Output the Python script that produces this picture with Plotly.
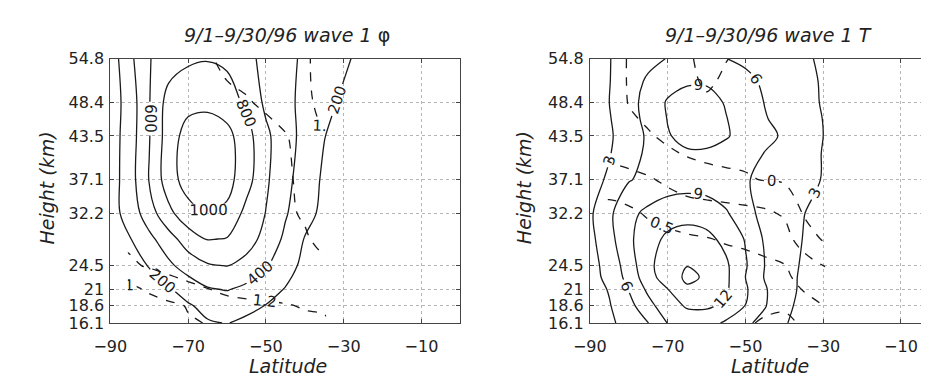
import numpy as np
import plotly.graph_objects as go

# ---------------- data ----------------
LAT = [-90, -85, -80, -75, -70, -65, -60, -55, -50, -45, -40, -35, -30, -25, -20, -10, 0]

# left panel: wave-1 geopotential amplitude (m) and phase
H_L = [16.1, 18.6, 21, 24.5, 28.4, 32.2, 37.1, 43.5, 48.4, 54.8]
AMP_L = [
    [20, 40, 60, 90, 130, 185, 205, 170, 140, 100, 70, 40, 30, 20, 10, 5, 5],
    [30, 50, 80, 120, 180, 250, 270, 240, 195, 140, 90, 50, 40, 25, 15, 10, 5],
    [40, 70, 110, 180, 280, 380, 410, 350, 270, 190, 110, 70, 50, 30, 20, 10, 10],
    [60, 120, 210, 360, 490, 580, 605, 540, 420, 280, 150, 90, 60, 40, 30, 15, 10],
    [110, 190, 350, 520, 700, 810, 790, 680, 540, 360, 190, 110, 70, 50, 30, 15, 10],
    [120, 280, 510, 750, 930, 1005, 960, 740, 595, 420, 270, 150, 90, 60, 40, 20, 10],
    [100, 310, 610, 910, 1090, 1130, 1070, 880, 630, 460, 300, 170, 100, 60, 40, 20, 10],
    [100, 300, 590, 900, 1080, 1120, 1060, 880, 640, 480, 340, 205, 130, 80, 50, 20, 10],
    [90, 290, 590, 880, 940, 950, 900, 760, 560, 460, 340, 250, 170, 100, 60, 20, 10],
    [90, 350, 590, 700, 770, 790, 760, 660, 540, 450, 370, 300, 230, 150, 90, 30, 10],
]
N5 = [None] * 5
PHS_L = [
    [None, 0.90, 0.93, 0.96, 0.985, 1.005, 1.06, 1.11, 1.15, 1.16, 1.17, 1.18] + N5,
    [None, 0.92, 0.94, 0.96, 1.01, 1.10, 1.15, 1.17, 1.18, 1.19, 1.21, 1.22] + N5,
    [None, 0.96, 1.02, 1.10, 1.16, 1.195, 1.23, 1.24, 1.25, 1.26, 1.27, 1.28] + N5,
    [None, 1.17, 1.22, 1.26, 1.28, 1.29, 1.30, 1.30, 1.30, 1.30, 1.32, 1.36] + N5,
    [None, 1.24, 1.27, 1.29, 1.30, 1.30, 1.30, 1.31, 1.32, 1.34, 1.38, 1.45] + N5,
    [None, 1.26, 1.28, 1.30, 1.30, 1.30, 1.31, 1.32, 1.33, 1.37, 1.42, 1.48] + N5,
    [None, 1.27, 1.29, 1.30, 1.30, 1.31, 1.32, 1.33, 1.35, 1.38, 1.43, 1.50] + N5,
    [None, 1.27, 1.29, 1.30, 1.31, 1.32, 1.33, 1.34, 1.36, 1.39, 1.46, 1.59] + N5,
    [None, 1.28, 1.30, 1.32, 1.34, 1.36, 1.38, 1.39, 1.42, 1.48, 1.57, 1.64] + N5,
    [None, 1.28, 1.30, 1.33, 1.36, 1.39, 1.42, 1.45, 1.48, 1.52, 1.58, 1.65] + N5,
]

# right panel: wave-1 temperature amplitude (K) and phase
H_R = [16.1, 18.6, 21, 22.8, 24.5, 28.4, 32.2, 37.1, 41, 43.5, 46, 48.4, 51.5, 54.8]
AMP_R = [
    [1.2, 2.4, 4.2, 5.95, 9.1, 10.5, 10.3, 8.5, 6.6, 5.0, 3.2, 2.1, 1.6, 1.2, 0.9, 0.6, 0.4],
    [1.4, 2.8, 5.0, 8.0, 10.8, 12.3, 12.4, 11.5, 8.95, 6.2, 3.6, 2.3, 1.8, 1.3, 1.0, 0.7, 0.5],
    [1.6, 3.2, 6.1, 9.6, 11.9, 14.6, 14.0, 12.4, 9.4, 6.3, 3.9, 2.5, 1.9, 1.4, 1.1, 0.7, 0.5],
    [1.9, 3.8, 7.0, 10.8, 13.6, 15.5, 14.7, 12.6, 9.0, 5.8, 3.6, 2.7, 2.0, 1.5, 1.2, 0.8, 0.5],
    [2.0, 4.0, 7.5, 11.2, 13.8, 14.95, 14.3, 12.5, 9.3, 5.95, 3.6, 2.8, 2.1, 1.6, 1.2, 0.8, 0.5],
    [2.2, 5.0, 8.4, 10.8, 12.6, 13.2, 12.8, 11.2, 8.8, 5.6, 4.2, 2.9, 2.2, 1.7, 1.3, 0.8, 0.5],
    [2.5, 5.4, 8.3, 9.6, 10.6, 11.0, 10.6, 9.3, 7.2, 4.9, 4.3, 3.05, 2.3, 1.8, 1.4, 0.9, 0.6],
    [2.0, 3.4, 5.8, 6.8, 7.4, 7.6, 7.5, 7.0, 6.3, 5.1, 4.4, 3.6, 2.9, 2.2, 1.6, 1.0, 0.6],
    [1.5, 2.8, 4.9, 6.5, 7.9, 8.7, 8.7, 8.2, 7.4, 5.9, 5.0, 3.9, 2.9, 2.2, 1.6, 1.0, 0.6],
    [1.5, 2.6, 4.6, 6.4, 8.8, 9.8, 9.8, 9.2, 8.2, 7.0, 5.5, 4.1, 3.0, 2.2, 1.6, 1.0, 0.6],
    [1.5, 2.8, 4.9, 6.8, 9.1, 10.2, 10.2, 9.1, 7.8, 6.2, 5.0, 4.0, 2.95, 2.2, 1.6, 1.0, 0.6],
    [1.5, 3.0, 5.0, 7.0, 9.3, 10.0, 10.0, 8.8, 7.6, 5.9, 4.9, 3.8, 2.8, 2.1, 1.6, 1.0, 0.6],
    [1.5, 2.9, 4.8, 6.4, 7.9, 8.7, 8.7, 8.0, 6.8, 5.5, 4.6, 3.7, 2.75, 2.0, 1.6, 1.0, 0.6],
    [1.5, 2.9, 4.2, 5.3, 6.1, 6.8, 6.7, 6.05, 5.4, 4.7, 4.0, 3.4, 2.6, 2.0, 1.6, 1.0, 0.6],
]
PHS_R = [
    [None, 0.72, 0.71, 0.70, 0.70, 0.70, 0.70, 0.70, 0.72, 0.78, 0.80, 0.72, 0.60] + [None] * 4,
    [None, 0.72, 0.71, 0.70, 0.69, 0.68, 0.67, 0.66, 0.66, 0.70, 0.72, 0.60, 0.50] + [None] * 4,
    [None, 0.72, 0.70, 0.69, 0.68, 0.66, 0.64, 0.62, 0.60, 0.58, 0.56, 0.49, 0.40] + [None] * 4,
    [None, 0.72, 0.70, 0.68, 0.66, 0.64, 0.62, 0.60, 0.58, 0.56, 0.53, 0.45, 0.30] + [None] * 4,
    [None, 0.72, 0.70, 0.67, 0.64, 0.62, 0.60, 0.58, 0.56, 0.54, 0.51, 0.38, 0.25] + [None] * 4,
    [None, 0.70, 0.65, 0.60, 0.56, 0.53, 0.51, 0.48, 0.46, 0.42, 0.35, 0.12, -0.02] + [None] * 4,
    [None, 0.60, 0.55, 0.47, 0.42, 0.38, 0.36, 0.34, 0.32, 0.29, 0.22, -0.02, -0.05] + [None] * 4,
    [None, 0.35, 0.32, 0.28, 0.20, 0.12, 0.08, 0.05, 0.02, -0.01, -0.03, -0.05, -0.05] + [None] * 4,
    [None, 0.20, 0.15, 0.08, 0.03, -0.02, -0.05, -0.06, -0.05, -0.04, -0.03, -0.02, -0.02] + [None] * 4,
    [None, 0.20, 0.10, 0.02, -0.04, -0.08, -0.10, -0.10, -0.08, -0.06, -0.04, -0.03, -0.03] + [None] * 4,
    [None, 0.15, 0.03, -0.03, -0.08, -0.12, -0.15, -0.15, -0.12, -0.08, -0.05, -0.04, -0.04] + [None] * 4,
    [None, 0.15, -0.01, -0.05, -0.10, -0.15, -0.20, -0.22, -0.15, -0.10, -0.07, -0.06, -0.06] + [None] * 4,
    [None, 0.15, -0.02, -0.04, -0.10, -0.17, -0.30, -0.20, -0.15, -0.10, -0.08, -0.08, -0.08] + [None] * 4,
    [None, 0.15, -0.02, -0.05, -0.12, -0.20, -0.35, -0.26, -0.18, -0.12, -0.10, -0.10, -0.10] + [None] * 4,
]

X_TICKS = [-90, -70, -50, -30, -10]
Y_TICKS = [16.1, 18.6, 21, 24.5, 32.2, 37.1, 43.5, 48.4, 54.8]
Y_TICKTEXT = ["16.1", "18.6", "21", "24.5", "32.2", "37.1", "43.5", "48.4", "54.8"]
TITLES = ["<i>9/1\u20139/30/96 wave 1 </i>\u03c6", "<i>9/1\u20139/30/96 wave 1 T</i>"]

# ---------------- figure ----------------
W, H = 929, 381
FONT = "DejaVu Sans"
BLACK = [[0, "#1a1a1a"], [1, "#1a1a1a"]]


def contour(z, ys, xa, ya, start, end, size, dash):
    return go.Contour(
        x=LAT, y=ys, z=np.array(z, dtype=float),
        xaxis=xa, yaxis=ya,
        autocontour=False,
        contours=dict(start=start, end=end, size=size, coloring="lines",
                      showlabels=True,
                      labelfont=dict(family=FONT, size=15, color="#1a1a1a")),
        colorscale=BLACK, showscale=False,
        line=dict(width=1.3, dash=dash, smoothing=1.0),
        connectgaps=False, hoverinfo="skip",
    )


fig = go.Figure()
fig.add_trace(contour(AMP_L, H_L, "x", "y", 200, 1000, 200, "solid"))
fig.add_trace(contour(PHS_L, H_L, "x", "y", 1.0, 1.6, 0.2, "dash"))
fig.add_trace(contour(AMP_R, H_R, "x2", "y2", 3, 15, 3, "solid"))
fig.add_trace(contour(PHS_R, H_R, "x2", "y2", -0.25, 0.75, 0.25, "dash"))

ax_common = dict(
    showgrid=True, gridcolor="#b5b5b5", griddash="dot", gridwidth=1,
    zeroline=False, showline=True, linecolor="#444", linewidth=1,
    mirror="allticks", ticks="inside", ticklen=4, tickcolor="#444",
    tickfont=dict(family=FONT, size=16, color="#222"),
)
y_bottom = 1 - 322 / H
y_top = 1 - 44 / H

fig.update_layout(
    width=W, height=H,
    margin=dict(l=0, r=0, t=0, b=0),
    paper_bgcolor="white", plot_bgcolor="white",
    showlegend=False,
    xaxis=dict(domain=[87 / W, 444 / W], range=[-90, 0], tickvals=X_TICKS,
               anchor="y", ticklabelstandoff=9, **ax_common),
    yaxis=dict(domain=[y_bottom, y_top], range=[16.1, 54.8], tickvals=Y_TICKS,
               ticktext=Y_TICKTEXT, anchor="x", ticklabelstandoff=2, **ax_common),
    xaxis2=dict(domain=[576 / W, 1.0], range=[-90, -1.0], tickvals=X_TICKS,
                anchor="y2", ticklabelstandoff=9, **ax_common),
    yaxis2=dict(domain=[y_bottom, y_top], range=[16.1, 54.8], tickvals=Y_TICKS,
                ticktext=Y_TICKTEXT, anchor="x2", ticklabelstandoff=2, **ax_common),
)

ann_font = dict(family=FONT, size=19, color="#222")


def px_x(px):
    return px / W


def px_y(py):
    return 1 - py / H


annotations = [
    dict(text=TITLES[0], x=px_x(267), y=px_y(19)),
    dict(text=TITLES[1], x=px_x(758), y=px_y(19)),
    dict(text="<i>Latitude</i>", x=px_x(268), y=px_y(367)),
    dict(text="<i>Latitude</i>", x=px_x(760), y=px_y(367)),
    dict(text="<i>Height (km)</i>", x=px_x(22), y=px_y(180), textangle=-90),
    dict(text="<i>Height (km)</i>", x=px_x(509), y=px_y(180), textangle=-90),
]
for a in annotations:
    fig.add_annotation(xref="paper", yref="paper", showarrow=False,
                       xanchor="center", yanchor="middle", font=ann_font, **a)

fig.write_html("out.html")
